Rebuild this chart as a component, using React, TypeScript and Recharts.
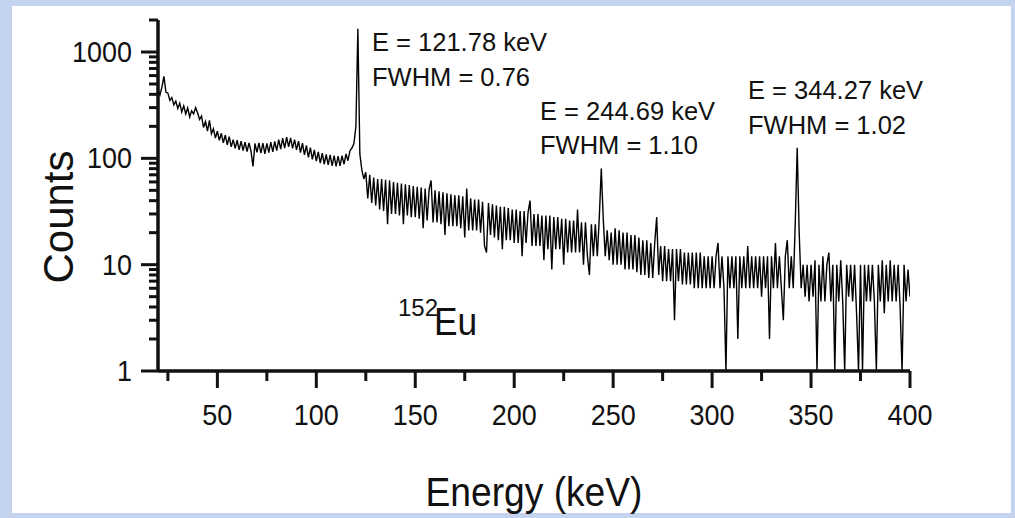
import React from 'react';
import { LineChart, Line, XAxis, YAxis, ReferenceLine } from 'recharts';

// Energy grid: 1 keV channels starting at 20 keV
const energyStart = 20;

// Counts 20–120 keV
const countsLow = [
  445, 395, 470, 590, 420, 410, 350, 372, 318, 345,
  295, 330, 272, 312, 262, 298, 245, 280, 262, 300,
  268, 232, 250, 195, 222, 180, 228, 170, 190, 155,
  180, 148, 172, 140, 165, 134, 160, 128, 150, 124,
  148, 120, 145, 118, 142, 116, 140, 117, 84, 138,
  114, 140, 112, 139, 110, 138, 113, 142, 115, 144,
  118, 150, 122, 155, 125, 158, 128, 156, 124, 150,
  120, 145, 113, 139, 108, 132, 102, 126, 98, 120,
  94, 115, 90, 112, 88, 109, 87, 108, 85, 106,
  84, 105, 85, 106, 88, 110, 95, 118, 125, 138,
  200,
];

// Counts 121–250 keV
const countsMid = [
  1650, 110, 78, 64, 74, 42, 70, 38, 66, 36,
  64, 33, 64, 32, 63, 24, 62, 30, 60, 30,
  59, 29, 58, 24, 57, 29, 56, 28, 55, 28,
  54, 27, 53, 22, 52, 26, 51, 62, 25, 50,
  25, 49, 24, 48, 19, 47, 23, 46, 23, 45,
  23, 45, 22, 44, 18, 52, 21, 42, 21, 41,
  21, 41, 20, 39, 15, 13, 38, 19, 37, 18,
  36, 17, 35, 14, 35, 17, 34, 17, 33, 16,
  33, 16, 32, 12, 32, 16, 31, 40, 15, 30,
  15, 30, 15, 29, 11, 29, 14, 29, 9, 28,
  14, 28, 14, 27, 10, 27, 13, 26, 13, 26,
  13, 33, 13, 25, 10, 25, 12, 8, 24, 12,
  24, 12, 28, 80, 27, 12, 21, 11, 20, 10,
];

// Counts 251–400 keV
const countsHigh = [
  22, 10, 21, 10, 20, 9, 20, 9, 19, 9,
  19, 8.5, 18, 8, 17, 8, 17, 7.5, 16, 7.5,
  16, 28, 8, 15, 7, 15, 7, 14, 7, 14,
  3, 14, 7, 14, 6.5, 13, 6.5, 13, 6.5, 13,
  6, 13, 6, 13, 6, 12, 6, 12, 6, 12,
  6, 12, 16, 6, 12, 6, 1, 12, 6, 12,
  6, 12, 2, 12, 6, 12, 6, 15, 6, 12,
  6, 12, 6, 12, 5, 12, 6, 12, 2, 12,
  6, 16, 6, 12, 6, 3, 12, 17, 6, 12,
  6, 24, 126, 20, 6, 10, 5, 10, 4.5, 10,
  5, 11, 1, 10, 4.5, 12, 4.5, 10, 13, 4.5,
  10, 1, 10, 4.5, 11, 4.5, 1, 10, 5, 10,
  4.5, 10, 3.5, 1, 10, 1, 10, 4.5, 10, 4.5,
  10, 4.5, 1, 10, 4.5, 11, 3.5, 10, 4.5, 11,
  4.5, 10, 4.5, 10, 4, 1, 10, 4.5, 9, 5,
];

const xTicks = [25, 50, 75, 100, 125, 150, 175, 200, 225, 250, 275, 300, 325, 350, 375, 400];
const xMajor = [50, 100, 150, 200, 250, 300, 350, 400];
const yTicks = [
  1, 2, 3, 4, 5, 6, 7, 8, 9,
  10, 20, 30, 40, 50, 60, 70, 80, 90,
  100, 200, 300, 400, 500, 600, 700, 800, 900,
  1000, 2000,
];
const yMajor = [1, 10, 100, 1000];

const peakLabels = [
  { e: 'E = 121.78 keV', f: 'FWHM = 0.76' },
  { e: 'E = 244.69 keV', f: 'FWHM = 1.10' },
  { e: 'E = 344.27 keV', f: 'FWHM = 1.02' },
];

const counts = [...countsLow, ...countsMid, ...countsHigh];
const data = counts.map((c, i) => ({ e: energyStart + i, c }));

// chart geometry
const CHART_W = 1015;
const CHART_H = 518;
const MARGIN = { top: 20, right: 105, bottom: 87, left: 0 };
const Y_AXIS_W = 158;
const X_AXIS_H = 60;
const X_DOMAIN: [number, number] = [20, 400];
const Y_DOMAIN: [number, number] = [1, 2000];
const PLOT_W = CHART_W - MARGIN.left - MARGIN.right - Y_AXIS_W;
const PLOT_H = CHART_H - MARGIN.top - MARGIN.bottom - X_AXIS_H;

// tick lengths in px, converted into axis units so the library scales place them
const MAJOR_LEN = 17;
const MINOR_X_LEN = 10;
const MINOR_Y_LEN = 9;
const keVPerPx = (X_DOMAIN[1] - X_DOMAIN[0]) / PLOT_W;
const decadesPerPx = Math.log10(Y_DOMAIN[1] / Y_DOMAIN[0]) / PLOT_H;
const yBelow = (px: number) => Y_DOMAIN[0] * Math.pow(10, -px * decadesPerPx);
const xLeft = (px: number) => X_DOMAIN[0] - px * keVPerPx;

const FONT = '"Liberation Sans", Arial, Helvetica, sans-serif';
const INK = '#111';
const LW = 3;

const renderXTick = (props: any) => {
  const { x, y, payload } = props;
  const v = payload.value;
  if (!xMajor.includes(v)) return <g />;
  return (
    <text
      transform={`translate(${x},${y + 54}) scale(0.93,1)`}
      textAnchor="middle"
      fontFamily={FONT}
      fontSize={29}
      fill={INK}
      stroke="none"
    >
      {v}
    </text>
  );
};

const renderYTick = (props: any) => {
  const { x, y, payload } = props;
  const v = payload.value;
  if (!yMajor.includes(v)) return <g />;
  return (
    <text
      transform={`translate(${x - 26},${y + 10}) scale(0.93,1)`}
      textAnchor="end"
      fontFamily={FONT}
      fontSize={29}
      fill={INK}
      stroke="none"
    >
      {v}
    </text>
  );
};

export default function App() {
  return (
    <div
      style={{
        position: 'absolute',
        left: 0,
        top: 0,
        width: CHART_W,
        height: CHART_H,
        background: '#c4d3ee',
        overflow: 'hidden',
      }}
    >
      <div style={{ position: 'absolute', left: 12, top: 6, width: 999, height: 507, background: '#fff' }} />
      <div style={{ position: 'absolute', left: 0, top: 0 }}>
        <LineChart width={CHART_W} height={CHART_H} data={data} margin={MARGIN}>
          <XAxis
            dataKey="e"
            type="number"
            domain={X_DOMAIN}
            allowDataOverflow
            ticks={xTicks}
            interval={0}
            tickSize={0}
            tickMargin={0}
            tickLine={false}
            height={X_AXIS_H}
            stroke={INK}
            axisLine={{ stroke: INK, strokeWidth: LW }}
            tick={renderXTick}
          />
          <YAxis
            type="number"
            scale="log"
            domain={Y_DOMAIN}
            allowDataOverflow
            ticks={yTicks}
            interval={0}
            tickSize={0}
            tickMargin={0}
            tickLine={false}
            width={Y_AXIS_W}
            stroke={INK}
            axisLine={{ stroke: INK, strokeWidth: LW }}
            tick={renderYTick}
          />
          <ReferenceLine
            segment={[{ x: X_DOMAIN[0], y: Y_DOMAIN[0] }, { x: X_DOMAIN[0], y: Y_DOMAIN[1] }]}
            stroke={INK}
            strokeWidth={LW}
            ifOverflow="visible"
          />
          <ReferenceLine
            segment={[{ x: X_DOMAIN[0], y: Y_DOMAIN[0] }, { x: X_DOMAIN[1], y: Y_DOMAIN[0] }]}
            stroke={INK}
            strokeWidth={LW}
            ifOverflow="visible"
          />
          {yTicks.map((v) => (
            <ReferenceLine
              key={`yt-${v}`}
              segment={[
                { x: xLeft(yMajor.includes(v) ? MAJOR_LEN : MINOR_Y_LEN), y: v },
                { x: X_DOMAIN[0], y: v },
              ]}
              stroke={INK}
              strokeWidth={LW}
              ifOverflow="visible"
            />
          ))}
          {xTicks.map((v) => (
            <ReferenceLine
              key={`xt-${v}`}
              segment={[
                { x: v, y: Y_DOMAIN[0] },
                { x: v, y: yBelow(xMajor.includes(v) ? MAJOR_LEN : MINOR_X_LEN) },
              ]}
              stroke={INK}
              strokeWidth={LW}
              ifOverflow="visible"
            />
          ))}
          <Line
            type="linear"
            dataKey="c"
            stroke="#000"
            strokeWidth={1.4}
            dot={false}
            isAnimationActive={false}
          />
        </LineChart>
      </div>
      <svg
        width={CHART_W}
        height={CHART_H}
        style={{ position: 'absolute', left: 0, top: 0, pointerEvents: 'none' }}
        fontFamily={FONT}
        fill={INK}
      >
        <text x={372} y={51} fontSize={25.5}>{peakLabels[0].e}</text>
        <text x={372} y={86} fontSize={25.5}>{peakLabels[0].f}</text>
        <text x={540} y={120} fontSize={25.5}>{peakLabels[1].e}</text>
        <text x={540} y={154} fontSize={25.5}>{peakLabels[1].f}</text>
        <text x={748} y={99} fontSize={25.5}>{peakLabels[2].e}</text>
        <text x={748} y={134} fontSize={25.5}>{peakLabels[2].f}</text>
        <text x={398} y={316} fontSize={24}>152</text>
        <text transform="translate(434,335) scale(0.93,1)" fontSize={38}>Eu</text>
        <text transform="translate(534,506) scale(0.93,1)" textAnchor="middle" fontSize={40}>Energy (keV)</text>
        <text transform="translate(73,217) rotate(-90)" textAnchor="middle" fontSize={42}>Counts</text>
      </svg>
    </div>
  );
}
